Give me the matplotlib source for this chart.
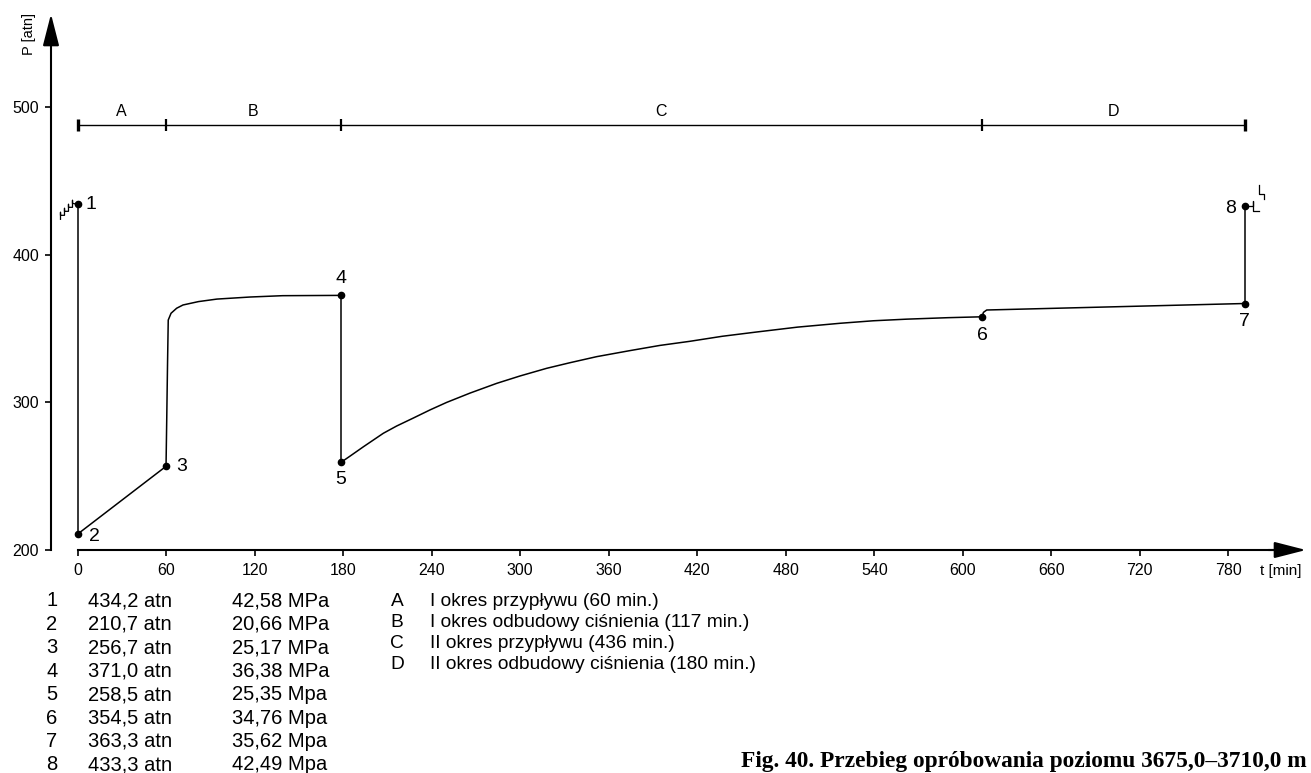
import matplotlib
matplotlib.use("Agg")
import matplotlib.pyplot as plt
import matplotlib.transforms as mtransforms

plt.rcParams['font.family'] = ['Liberation Sans', 'DejaVu Sans']

# ---------------- data ----------------
# pressure curve segments: time [min], pressure [atn]
drop1_t = [0, 0]
drop1_p = [434.2, 210.7]
flowA_t = [0, 60]
flowA_p = [210.7, 256.7]
buildB_t = [60, 60.5, 61, 61.5, 63.4, 67.2, 71.5, 82, 94.5, 117, 139, 178.5]
buildB_p = [256.7, 290, 325, 355.8, 360.4, 363.8, 366, 368.3, 370, 371.4, 372.3, 372.5]
drop2_t = [178.5, 178.5]
drop2_p = [372.5, 259.4]
flowC_t = [178.6, 184.7, 193.7, 207.3, 216.3, 227.6, 238.9, 250.2, 266.0, 284.1,
           299.9, 318.0, 333.8, 351.9, 374.5, 394.7, 415.1, 437, 460.3, 488,
           516.8, 539.3, 562, 590, 613]
flowC_p = [259.4, 263.6, 269.9, 279.1, 284.0, 289.4, 294.9, 300.0, 306.3, 312.9,
           317.9, 323.1, 326.9, 331.0, 335.1, 338.6, 341.4, 344.8, 347.7, 351.0,
           353.6, 355.3, 356.4, 357.4, 358.0]
buildD_t = [613, 614, 616.2, 791]
buildD_p = [358.0, 361, 362.6, 367.0]
rise_t = [791, 791]
rise_p = [367.0, 433.3]

# numbered points
point_ids = ["1", "2", "3", "4", "5", "6", "7", "8"]
point_t = [0, 0, 60, 178.5, 178.5, 613, 791, 791]
point_p = [434.2, 210.7, 256.7, 372.5, 259.4, 358.0, 367.0, 433.3]

# period bar
period_bounds = [0, 60, 178.5, 613, 791]
period_names = ["A", "B", "C", "D"]
period_level = 488

# tick labels
x_ticks = list(range(0, 781, 60))
y_ticks = [200, 300, 400, 500]

# legend tables
table_atn = ["434,2 atn", "210,7 atn", "256,7 atn", "371,0 atn",
             "258,5 atn", "354,5 atn", "363,3 atn", "433,3 atn"]
table_mpa = ["42,58 MPa", "20,66 MPa", "25,17 MPa", "36,38 MPa",
             "25,35 Mpa", "34,76 Mpa", "35,62 Mpa", "42,49 Mpa"]
period_desc = ["I okres przypływu (60 min.)",
               "I okres odbudowy ciśnienia (117 min.)",
               "II okres przypływu (436 min.)",
               "II okres odbudowy ciśnienia (180 min.)"]
caption = "Fig. 40. Przebieg opróbowania poziomu 3675,0–3710,0 m"

# ---------------- figure ----------------
W, H, DPI = 1311, 773, 100
fig = plt.figure(figsize=(W / DPI, H / DPI), dpi=DPI)

# axes box in pixels
px_left, px_right, px_bottom, px_top = 51, 1306, 550, 14
ax = fig.add_axes([px_left / W, (H - px_bottom) / H,
                   (px_right - px_left) / W, (px_bottom - px_top) / H])
sx = 1.4755   # px per minute
sy = 1.476    # px per atn
t0_px = 77.5
ax.set_xlim((px_left - t0_px) / sx, (px_right - t0_px) / sx)
ax.set_ylim(200, 200 + (px_bottom - px_top) / sy)

lw = 1.1
for tt, pp in [(drop1_t, drop1_p), (flowA_t, flowA_p), (buildB_t, buildB_p),
               (drop2_t, drop2_p), (flowC_t, flowC_p), (buildD_t, buildD_p),
               (rise_t, rise_p)]:
    ax.plot(tt, pp, color="black", lw=lw, solid_joinstyle="round", antialiased=True)

ax.plot(point_t, point_p, "o", color="black", ms=4.5, zorder=5)

# point labels (offsets in points)
lab_off = {"1": (5.5, 0, "left", "center"), "2": (8, -2, "left", "center"),
           "3": (7, 0, "left", "center"), "4": (0, 6, "center", "bottom"),
           "5": (0, -6.5, "center", "top"), "6": (0, -7, "center", "top"),
           "7": (0, -6.5, "center", "top"), "8": (-6.5, -2, "right", "center")}
for pid, tt, pp in zip(point_ids, point_t, point_p):
    dx, dy, ha, va = lab_off[pid]
    ax.annotate(pid, (tt, pp), xytext=(dx, dy), textcoords="offset points",
                ha=ha, va=va, fontsize=14)

# small step symbols near points 1 and 8 (pixel offsets, y up)
def deco(anchor_t, anchor_p, xs, ys):
    tr = fig.dpi_scale_trans + mtransforms.ScaledTranslation(anchor_t, anchor_p, ax.transData)
    ax.plot([x / DPI for x in xs], [y / DPI for y in ys], color="black",
            lw=0.9, transform=tr, clip_on=False)

deco(point_t[0], point_p[0],
     [-17, -17, -17, -13, -13, -13, -9, -9, -9, -5, -5, -5, 0],
     [-15, -8, -11, -11, -4, -7, -7, 0, -3, -3, 4, 1, 0])
deco(point_t[7], point_p[7],
     [4, 8, 8, 8, 8, 14],
     [0, 0, 5, -5, -5, -5])
deco(point_t[7], point_p[7],
     [14, 14, 19, 19],
     [21, 12, 12, 7])

# period bar
ax.plot([period_bounds[0], period_bounds[-1]], [period_level] * 2, color="black", lw=1.0)
for i, b in enumerate(period_bounds):
    end = i in (0, len(period_bounds) - 1)
    ax.plot([b, b], [period_level - 4, period_level + 4], color="black",
            lw=2.4 if end else 1.6, solid_capstyle="butt")
for name, a, b in zip(period_names, period_bounds[:-1], period_bounds[1:]):
    ax.text((a + b) / 2, period_level + 4, name, ha="center", va="bottom", fontsize=11.5)

# axes styling
for s in ("top", "right"):
    ax.spines[s].set_visible(False)
ax.spines["left"].set_linewidth(1.5)
ax.spines["bottom"].set_linewidth(1.5)
ax.spines["bottom"].set_bounds(0, ax.get_xlim()[1] - 10)
ax.spines["left"].set_bounds(200, ax.get_ylim()[1] - 10)
ax.set_xticks(x_ticks)
ax.set_xticklabels([str(v) for v in x_ticks])
ax.set_yticks(y_ticks)
ax.set_yticklabels([str(v) for v in y_ticks])
ax.tick_params(axis="both", direction="out", length=4.5, width=1.2, labelsize=11.5, pad=5)
ax.tick_params(axis="y", pad=4)

# arrow heads
arrow_style = "-|>,head_length=1.95,head_width=0.5"
ax.annotate("", xy=(1, 0), xycoords="axes fraction", xytext=(0.97, 0),
            arrowprops=dict(arrowstyle=arrow_style, mutation_scale=10, color="black",
                            lw=1.5, shrinkA=0, shrinkB=0), annotation_clip=False)
ax.annotate("", xy=(0, 1), xycoords="axes fraction", xytext=(0, 0.95),
            arrowprops=dict(arrowstyle=arrow_style, mutation_scale=10, color="black",
                            lw=1.5, shrinkA=0, shrinkB=0), annotation_clip=False)

# axis titles
fig.text(29 / W, 1 - 34 / H, "P [atn]", rotation=90, ha="center", va="center", fontsize=10.5)
fig.text(1281 / W, 1 - 571 / H, "t [min]", ha="center", va="center", fontsize=11)

# value table
row0, drow = 601, 23.4
for i, (pid, a, m) in enumerate(zip(point_ids, table_atn, table_mpa)):
    y = 1 - (row0 + i * drow) / H
    fig.text(52 / W, y, pid, ha="center", va="center", fontsize=14.5)
    fig.text(88 / W, y, a, ha="left", va="center", fontsize=14.5)
    fig.text(232 / W, y, m, ha="left", va="center", fontsize=14.5)

# period legend
row0b, drowb = 601, 21.3
for i, (name, desc) in enumerate(zip(period_names, period_desc)):
    y = 1 - (row0b + i * drowb) / H
    fig.text(397 / W, y, name, ha="center", va="center", fontsize=13.8)
    fig.text(430 / W, y, desc, ha="left", va="center", fontsize=13.8)

fig.text(1307 / W, 1 - 761 / H, caption, ha="right", va="center", fontsize=16.8,
         family="Liberation Serif", fontweight="bold")

fig.savefig("out.png", dpi=DPI)
